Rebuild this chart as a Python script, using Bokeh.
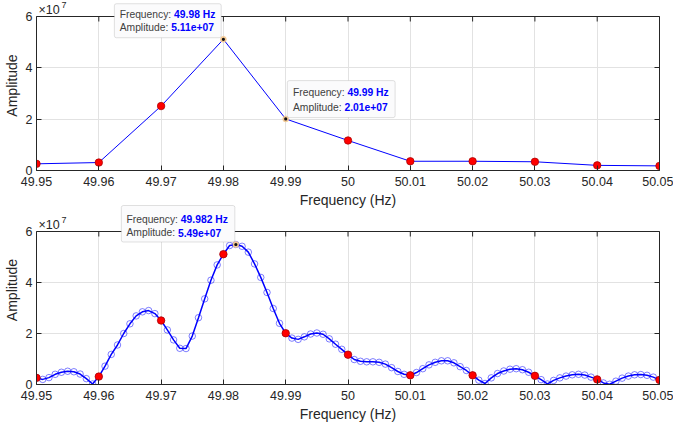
import numpy as np
from bokeh.plotting import figure
from bokeh.layouts import column
from bokeh.models import (FixedTicker, PrintfTickFormatter, Label, BoxAnnotation,
                          Range1d, Span, Grid, LinearAxis)
from bokeh.embed import file_html
from bokeh.resources import INLINE

# FFT bins (0.01 Hz resolution), amplitudes in units of 1e7
bin_freq = [49.95, 49.96, 49.97, 49.98, 49.99, 50.00, 50.01, 50.02, 50.03, 50.04, 50.05]
bin_amp_e7 = [0.26, 0.31, 2.51, 5.11, 2.01, 1.17, 0.36, 0.36, 0.34, 0.20, 0.18]

# zero-padded spectrum (0.001 Hz steps), amplitudes in units of 1e7
fine_freq = [round(49.95 + 0.001 * k, 3) for k in range(101)]
fine_amp_e7 = [
    0.26, 0.20, 0.27, 0.40, 0.48, 0.52, 0.50, 0.41, 0.23, 0.02,
    0.31, 0.72, 1.18, 1.55, 2.00, 2.38, 2.69, 2.85, 2.90, 2.78,
    2.51, 2.14, 1.75, 1.42, 1.41, 1.90, 2.62, 3.36, 4.09, 4.69,
    5.11, 5.45, 5.49, 5.42, 5.19, 4.73, 4.20, 3.61, 2.98, 2.40,
    2.01, 1.82, 1.77, 1.87, 1.98, 2.02, 1.97, 1.79, 1.58, 1.38,
    1.17, 0.98, 0.91, 0.89, 0.89, 0.87, 0.80, 0.66, 0.51, 0.40,
    0.36, 0.47, 0.62, 0.77, 0.87, 0.93, 0.93, 0.85, 0.70, 0.55,
    0.36, 0.17, 0.04, 0.26, 0.43, 0.53, 0.60, 0.62, 0.58, 0.48,
    0.34, 0.19, 0.02, 0.16, 0.26, 0.33, 0.38, 0.40, 0.37, 0.29,
    0.20, 0.06, 0.01, 0.13, 0.25, 0.33, 0.38, 0.39, 0.36, 0.29,
    0.18,
]

freq_ticks = [49.95, 49.96, 49.97, 49.98, 49.99, 50.0, 50.01, 50.02, 50.03, 50.04, 50.05]
amp_ticks = [0, 2, 4, 6]
AMP_SCALE = 1e7

# data tips on the bin plot (bin indices) and on the padded spectrum (its maximum)
top_tips = [3, 4]
bottom_tip = int(np.argmax(fine_amp_e7))

FONT = "Liberation Sans"
AX = "#262626"
GRID = "#e2e2e2"
BLUE = "#0000ff"
X0, X1 = 49.95, 50.05
Y0, Y1 = 0, 6
W = 673
FRAME_W = 624
HAS_CROSS = "cross_bounds" in Grid.properties()


def make_panel(height, box_h, head_px, border_bottom):
    """Axes box of box_h pixels for 0..6, with head_px of free room above it
    (for the exponent and data tips) kept inside the drawing frame."""
    v_px = (Y1 - Y0) / box_h
    y_top = Y1 + head_px * v_px
    p = figure(width=W, height=height, x_range=Range1d(X0, X1), y_range=Range1d(Y0, y_top),
               output_backend="svg", toolbar_location=None,
               min_border_left=35, min_border_right=14,
               min_border_top=0, min_border_bottom=border_bottom)
    p.outline_line_color = None
    xt = FixedTicker(ticks=freq_ticks)
    yt = FixedTicker(ticks=amp_ticks)
    p.xaxis.ticker = xt
    p.yaxis.ticker = yt
    p.xaxis.formatter = PrintfTickFormatter(format="%g")
    p.yaxis.formatter = PrintfTickFormatter(format="%g")
    p.yaxis.bounds = (Y0, Y1)
    p.xgrid.ticker = xt
    p.ygrid.ticker = yt
    p.xgrid.grid_line_color = GRID
    p.ygrid.grid_line_color = GRID
    if HAS_CROSS:
        p.xgrid.cross_bounds = (Y0, Y1)
    else:
        # white band above the axes box hides the upper ends of the grid lines
        p.quad(left=[X0], right=[X1], bottom=[Y1], top=[y_top], fill_color="white",
               line_color=None, level="underlay")
    p.xaxis.axis_label = "Frequency (Hz)"
    p.yaxis.axis_label = "Amplitude"
    for ax in (p.xaxis[0], p.yaxis[0]):
        ax.axis_line_color = AX
        ax.major_tick_line_color = AX
        ax.minor_tick_line_color = None
        ax.major_tick_in = 5
        ax.major_tick_out = 0
        ax.major_label_text_font = FONT
        ax.major_label_text_font_size = "12.5px"
        ax.major_label_text_color = AX
        ax.axis_label_text_font = FONT
        ax.axis_label_text_font_size = "14px"
        ax.axis_label_text_font_style = "normal"
        ax.axis_label_text_color = AX
        ax.axis_label_standoff = 3
    p.xaxis.major_label_standoff = 6
    p.yaxis.major_label_standoff = 4
    # right edge of the box, with mirrored ticks and no labels
    right_ax = LinearAxis(ticker=yt, bounds=(Y0, Y1), axis_line_color=AX,
                          major_tick_line_color=AX, minor_tick_line_color=None,
                          major_tick_in=5, major_tick_out=0, major_label_standoff=0,
                          major_label_text_font_size="1px", major_label_text_color=None)
    p.add_layout(right_ax, "right")
    # top edge of the box, with mirrored frequency ticks
    p.add_layout(Span(location=Y1, dimension="width", line_color=AX, line_width=1))
    p.segment(x0=freq_ticks, y0=[Y1] * len(freq_ticks), x1=freq_ticks,
              y1=[Y1 - 5 * v_px] * len(freq_ticks), line_color=AX, line_width=1)
    # x10^7 exponent above the y axis
    p.add_layout(Label(x=X0, y=Y1, x_offset=2, y_offset=6.5, text="\u00d710",
                       text_baseline="middle", text_font=FONT, text_font_size="12.5px",
                       text_color=AX))
    p.add_layout(Label(x=X0, y=Y1, x_offset=25, y_offset=12, text="7",
                       text_baseline="middle", text_font=FONT, text_font_size="9px",
                       text_color=AX))
    return p, v_px


def data_tip(p, fx, fy, v_px, box_px, text_px, freq_txt, amp_txt):
    hz_px = (X1 - X0) / FRAME_W
    left, right, top, bottom = box_px
    p.add_layout(BoxAnnotation(left=fx + left * hz_px, right=fx + right * hz_px,
                               top=fy + top * v_px, bottom=fy + bottom * v_px,
                               fill_color="#fbfbfc", fill_alpha=1.0,
                               line_color="#9a9a9a", line_width=1, border_radius=2,
                               level="annotation"))
    tx, dy1, dy2 = text_px
    for dy, name, val, w in ((dy1, "Frequency: ", freq_txt, 54.4),
                             (dy2, "Amplitude: ", amp_txt, 51.5)):
        p.add_layout(Label(x=fx, y=fy, x_offset=tx, y_offset=dy, text=name,
                           text_baseline="middle", text_font=FONT, text_font_size="10.3px",
                           text_color="#404040", level="overlay"))
        p.add_layout(Label(x=fx, y=fy, x_offset=tx + w, y_offset=dy, text=val,
                           text_baseline="middle", text_font=FONT, text_font_size="10.3px",
                           text_font_style="bold", text_color=BLUE, level="overlay"))
    p.scatter([fx], [fy], marker="circle", size=6, fill_color="#f3c894",
              line_color="#f3c894", line_width=0.5)
    p.scatter([fx], [fy], marker="circle", size=3.2, fill_color="#101010", line_color=None)


def tip_texts(f, a):
    return f"{f:g} Hz", f"{a * AMP_SCALE:.2e}"


# upper panel: raw FFT bins
p1, v1 = make_panel(215, 154, 16, 45)
p1.border_fill_color = "white"
p1.background_fill_color = "white"
p1.line(bin_freq, bin_amp_e7, line_color=BLUE, line_width=1)
red_x = [f for i, f in enumerate(bin_freq) if i not in top_tips]
red_y = [a for i, a in enumerate(bin_amp_e7) if i not in top_tips]
p1.scatter(red_x, red_y, marker="circle", size=7.5, fill_color="#ff0000",
           line_color="#a00000", line_width=0.7)
ft, at = tip_texts(bin_freq[top_tips[0]], bin_amp_e7[top_tips[0]])
data_tip(p1, bin_freq[top_tips[0]], bin_amp_e7[top_tips[0]], v1,
         (-109.2, -2.2, 35.6, 1.6), (-103.7, 24.6, 11.9), ft, at)
ft, at = tip_texts(bin_freq[top_tips[1]], bin_amp_e7[top_tips[1]])
data_tip(p1, bin_freq[top_tips[1]], bin_amp_e7[top_tips[1]], v1,
         (1.6, 109.6, 38.3, 1.3), (7.3, 26.6, 11.6), ft, at)

# lower panel: zero-padded spectrum with the FFT bins overlaid; its canvas
# slides up under the upper panel's axis title so the data tip has room
p2, v2 = make_panel(234, 153, 36, 45)
p2.border_fill_color = None
p2.background_fill_color = None
p2.margin = (-20, 0, 0, 0)
p2.line(fine_freq, fine_amp_e7, line_color=BLUE, line_width=1.5)
p2.scatter(fine_freq, fine_amp_e7, marker="circle", size=6.5, fill_color=None,
           line_color=BLUE, line_alpha=0.5, line_width=1)
p2.scatter(bin_freq, bin_amp_e7, marker="circle", size=7.5, fill_color="#ff0000",
           line_color="#a00000", line_width=0.7)
ft, at = tip_texts(fine_freq[bottom_tip], fine_amp_e7[bottom_tip])
data_tip(p2, fine_freq[bottom_tip], fine_amp_e7[bottom_tip], v2,
         (-114.7, -1.0, 39.0, 2.5), (-109.4, 25.0, 11.7), ft, at)

layout = column(p1, p2)
open("out.html", "w").write(file_html(layout, INLINE))
